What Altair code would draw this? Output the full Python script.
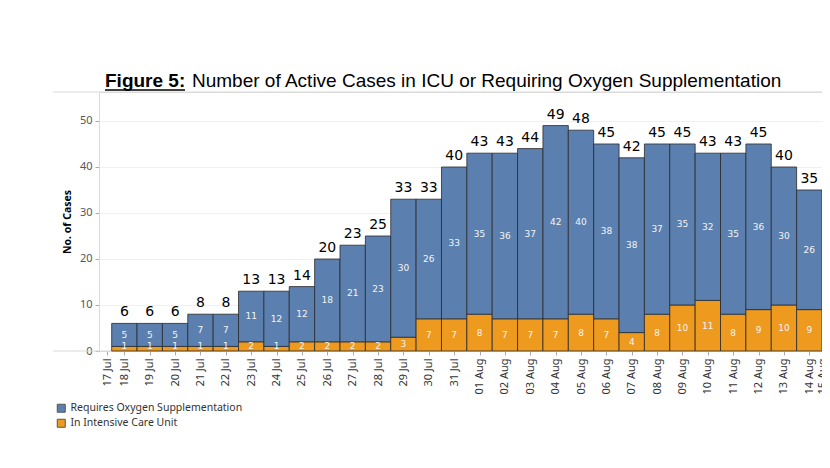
import altair as alt
import pandas as pd

dates = ["2020-07-18", "2020-07-19", "2020-07-20", "2020-07-21", "2020-07-22",
         "2020-07-23", "2020-07-24", "2020-07-25", "2020-07-26", "2020-07-27",
         "2020-07-28", "2020-07-29", "2020-07-30", "2020-07-31", "2020-08-01",
         "2020-08-02", "2020-08-03", "2020-08-04", "2020-08-05", "2020-08-06",
         "2020-08-07", "2020-08-08", "2020-08-09", "2020-08-10", "2020-08-11",
         "2020-08-12", "2020-08-13", "2020-08-14"]
icu = [1, 1, 1, 1, 1, 2, 1, 2, 2, 2, 2, 3, 7, 7, 8, 7, 7, 7, 8, 7, 4, 8, 10, 11, 8, 9, 10, 9]
oxygen = [5, 5, 5, 7, 7, 11, 12, 12, 18, 21, 23, 30, 26, 33, 35, 36, 37, 42, 40, 38, 38, 37,
          35, 32, 35, 36, 30, 26]
series_names = ["Requires Oxygen Supplementation", "In Intensive Care Unit"]
series_colors = ["#5b80b0", "#ee9a1f"]
y_ticks = [0, 10, 20, 30, 40, 50]

rows = []
for d, a, b in zip(dates, icu, oxygen):
    ts = pd.Timestamp(d)
    start = (ts - pd.Timedelta(hours=12)).strftime("%Y-%m-%dT%H:%M:%SZ")
    end = (ts + pd.Timedelta(hours=12)).strftime("%Y-%m-%dT%H:%M:%SZ")
    rows.append({"date": d + "T00:00:00Z", "start": start, "end": end,
                 "series": series_names[1], "value": a, "order": 0})
    rows.append({"date": d + "T00:00:00Z", "start": start, "end": end,
                 "series": series_names[0], "value": b, "order": 1})
df = pd.DataFrame(rows)

W, H = 723, 259

x_scale = alt.Scale(type="utc", domain=[
    alt.DateTime(year=2020, month=7, date=17, hours=0, utc=True),
    alt.DateTime(year=2020, month=8, date=14, hours=12, utc=True)])
y_scale = alt.Scale(domain=[0, 56.3], nice=False)

tick_values = [alt.DateTime(year=2020, month=7, date=17, hours=8, utc=True)]
for d in dates:
    ts = pd.Timestamp(d)
    tick_values.append(alt.DateTime(year=ts.year, month=ts.month, date=ts.day, hours=0, utc=True))
tick_values.append(alt.DateTime(year=2020, month=8, date=14, hours=12, utc=True))

x_axis = alt.Axis(values=tick_values, labelAngle=270, title=None,
                  labelExpr="utcFormat(toNumber(datum.value) + 43200000, '%d %b')",
                  labelFont="Noto Sans", labelFontSize=11, labelColor="#333333",
                  labelPadding=3, tickColor="#aaaaaa", tickSize=4, domainColor="#d9d9d9",
                  grid=False, labelOverlap=False, labelBound=False, labelFlush=False,
                  labelSeparation=0)
y_axis = alt.Axis(values=y_ticks, title="No. of Cases", titleFont="Noto Sans",
                  titleFontSize=10.5, titleFontWeight="bold", titleColor="#000000",
                  titlePadding=7, labelFont="Noto Sans", labelFontSize=11,
                  labelColor="#555555", tickColor="#aaaaaa", tickSize=4, labelPadding=3,
                  domainColor="#d9d9d9", gridColor="#f0f0f0", grid=True)

base = alt.Chart(df)
stacked = base.transform_stack(
    stack="value", groupby=["date"], as_=["y0", "y1"],
    sort=[alt.SortField("order", order="ascending")]
).transform_calculate(mid="max((datum.y0 + datum.y1) / 2, 1.15)")

bars = stacked.mark_bar(stroke="#2a2a2a", strokeWidth=0.8).encode(
    x=alt.X("start:T", scale=x_scale, axis=x_axis),
    x2="end:T",
    y=alt.Y("y0:Q", scale=y_scale, axis=y_axis),
    y2="y1:Q",
    color=alt.Color("series:N",
                    scale=alt.Scale(domain=series_names, range=series_colors),
                    legend=alt.Legend(title=None, orient="none", legendX=-43, legendY=311,
                                      symbolType="square", symbolSize=64,
                                      symbolStrokeColor="#555555", symbolStrokeWidth=1,
                                      labelFont="Noto Sans", labelFontSize=10.5,
                                      labelColor="#333333", rowPadding=2, labelLimit=400)),
)

seg_labels = stacked.mark_text(color="#f4f4f4", fontSize=9, font="DejaVu Sans",
                               baseline="middle").encode(
    x=alt.X("date:T", scale=x_scale, axis=x_axis),
    y=alt.Y("mid:Q", scale=y_scale, axis=y_axis),
    text="value:Q",
)

totals = base.transform_aggregate(
    total="sum(value)", groupby=["date"]
).mark_text(color="#000000", fontSize=14, font="DejaVu Sans", baseline="bottom",
            dy=-4).encode(
    x=alt.X("date:T", scale=x_scale, axis=x_axis),
    y=alt.Y("total:Q", scale=y_scale, axis=y_axis),
    text="total:Q",
)

one = pd.DataFrame({"k": [0]})
top_rule = alt.Chart(one).mark_rule(color="#d9d9d9", strokeWidth=1).encode(
    x=alt.value(-46), x2=alt.value(W), y=alt.value(0))
bottom_rule = alt.Chart(one).mark_rule(color="#d9d9d9", strokeWidth=1).encode(
    x=alt.value(-46), x2=alt.value(W), y=alt.value(H))

title_bold = alt.Chart(pd.DataFrame({"t": ["Figure 5:"]})).mark_text(
    font="Liberation Sans", fontSize=19, fontWeight="bold", align="left",
    baseline="alphabetic", color="#000000").encode(
    x=alt.value(6), y=alt.value(-5), text="t:N")
title_rest = alt.Chart(pd.DataFrame({"t": ["Number of Active Cases in ICU or Requiring Oxygen Supplementation"]})).mark_text(
    font="Liberation Sans", fontSize=19, align="left", baseline="alphabetic",
    color="#000000").encode(
    x=alt.value(93), y=alt.value(-5), text="t:N")
underline = alt.Chart(one).mark_rule(color="#000000", strokeWidth=1.5).encode(
    x=alt.value(6), x2=alt.value(86), y=alt.value(-2))

chart = alt.layer(
    top_rule, bottom_rule, bars, seg_labels, totals, title_bold, title_rest, underline
).properties(
    width=W, height=H,
    autosize=alt.AutoSizeParams(type="none"),
    padding={"left": 91, "top": 84, "right": 0, "bottom": 100},
).configure_view(stroke=None).configure(background="white").configure_axisX(
    labelOverlap=False, labelSeparation=0
)

chart.save("out.html", embed_options={"renderer": "svg", "actions": False})
